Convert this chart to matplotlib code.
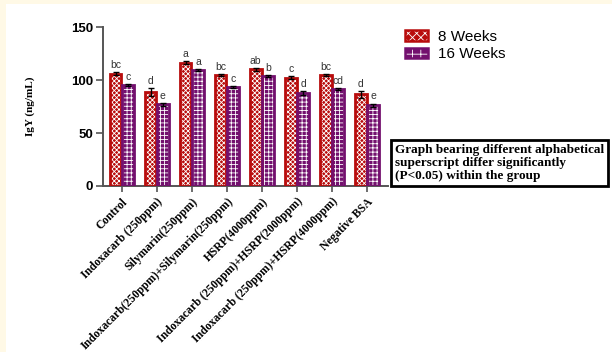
import matplotlib.pyplot as plt
from matplotlib.patches import Patch, Rectangle
from matplotlib.legend_handler import HandlerTuple
import numpy as np

groups = ['Control', 'Indoxacarb (250ppm)', 'Silymarin(250ppm)',
          'Indoxacarb(250ppm)+Silymarin(250ppm)', 'HSRP(4000ppm)',
          'Indoxacarb (250ppm)+HSRP(2000ppm)', 'Indoxacarb (250ppm)+HSRP(4000ppm)',
          'Negative BSA']
weeks8 = [106.0, 89.0, 116.5, 104.8, 110.0, 102.2, 104.8, 86.5]
weeks8_err = [1.2, 3.8, 1.5, 1.2, 1.0, 1.2, 1.2, 3.5]
weeks16 = [95.5, 77.0, 109.3, 93.7, 104.0, 88.0, 91.5, 76.3]
weeks16_err = [0.8, 1.5, 0.8, 0.8, 1.0, 2.0, 1.2, 1.5]
letters8 = ['bc', 'd', 'a', 'bc', 'ab', 'c', 'bc', 'd']
letters16 = ['c', 'e', 'a', 'c', 'b', 'd', 'cd', 'e']

red = '#b80c0c'
purple = '#73106e'
spine_col = '#555555'
plt.rcParams['hatch.linewidth'] = 0.6

fig = plt.figure(figsize=(6.12, 3.52), dpi=100)
fig.patch.set_facecolor('white')
# cream page edge
fig.add_artist(Rectangle((0, 0.988), 1, 0.012, transform=fig.transFigure,
                         color='#fff9e6', lw=0, zorder=0))
fig.add_artist(Rectangle((0, 0), 0.009, 1, transform=fig.transFigure,
                         color='#fff9e6', lw=0, zorder=0))

ax = fig.add_axes([0.168, 0.4716, 0.466, 0.4514])
x = np.arange(len(groups))
w = 0.33
x8 = x - w / 2 - 0.01
x16 = x + w / 2 + 0.01

# hatched fill first, then a thick outline on top
ax.bar(x8, weeks8, w, color=red, edgecolor='white', hatch='xxxxxxx', lw=0, zorder=2)
ax.bar(x8, weeks8, w, fill=False, edgecolor=red, lw=2, zorder=3)
ax.bar(x16, weeks16, w, color=purple, edgecolor='white', hatch='++++', lw=0, zorder=2)
ax.bar(x16, weeks16, w, fill=False, edgecolor=purple, lw=2, zorder=3)
ax.errorbar(x8, weeks8, yerr=weeks8_err, fmt='none', ecolor='black',
            elinewidth=1, capsize=2, capthick=1, zorder=4)
ax.errorbar(x16, weeks16, yerr=weeks16_err, fmt='none', ecolor='black',
            elinewidth=1, capsize=2, capthick=1, zorder=4)

for xi, v, e, t in zip(x8, weeks8, weeks8_err, letters8):
    ax.text(xi, v + e + 2, t, ha='center', va='bottom', fontsize=7.5,
            family='Liberation Sans', color='#333333')
for xi, v, e, t in zip(x16, weeks16, weeks16_err, letters16):
    ax.text(xi, v + e + 2, t, ha='center', va='bottom', fontsize=7.5,
            family='Liberation Sans', color='#333333')

ax.set_xlim(-0.54, 7.6)
ax.set_ylim(0, 150)
ax.set_yticks([0, 50, 100, 150])
ax.set_xticks(x)
ax.set_xticklabels(groups, rotation=45, ha='right', rotation_mode='anchor',
                   family='Liberation Serif', fontweight='bold', fontsize=8.4)
for lab in ax.get_yticklabels():
    lab.set_family('Liberation Sans')
    lab.set_fontweight('bold')
    lab.set_fontsize(9.5)
ax.tick_params(axis='y', length=5, width=1.2, color=spine_col, pad=2)
ax.tick_params(axis='x', length=4, width=1.2, color=spine_col, pad=3)
for s in ['top', 'right']:
    ax.spines[s].set_visible(False)
for s in ['left', 'bottom']:
    ax.spines[s].set_color(spine_col)
    ax.spines[s].set_linewidth(1.4)
ax.set_ylabel('IgY (ng/mL)', family='Liberation Serif', fontweight='bold',
              fontsize=8, labelpad=26)

# legend keys: hatched fill with a solid outline, same as the bars
handles = [(Patch(facecolor=red, edgecolor='white', hatch='xxxx', lw=0),
            Patch(fill=False, edgecolor=red, lw=1.8)),
           (Patch(facecolor=purple, edgecolor='white', hatch='++', lw=0),
            Patch(fill=False, edgecolor=purple, lw=1.8))]
fig.legend(handles, ['8 Weeks', '16 Weeks'], loc='upper left',
           bbox_to_anchor=(0.64, 0.955), frameon=False,
           handler_map={tuple: HandlerTuple(ndivide=1, pad=0)},
           prop={'family': 'Liberation Sans', 'size': 11},
           handlelength=1.5, handleheight=0.7, labelspacing=0.25,
           handletextpad=0.65)

fig.text(0.645, 0.538,
         'Graph bearing different alphabetical\nsuperscript differ significantly\n(P<0.05) within the group',
         family='Liberation Serif', fontweight='bold', fontsize=9.5,
         ha='left', va='center', linespacing=1.12,
         bbox=dict(boxstyle='square,pad=0.3', facecolor='white',
                   edgecolor='black', lw=2))

fig.savefig('out.png', dpi=100)
